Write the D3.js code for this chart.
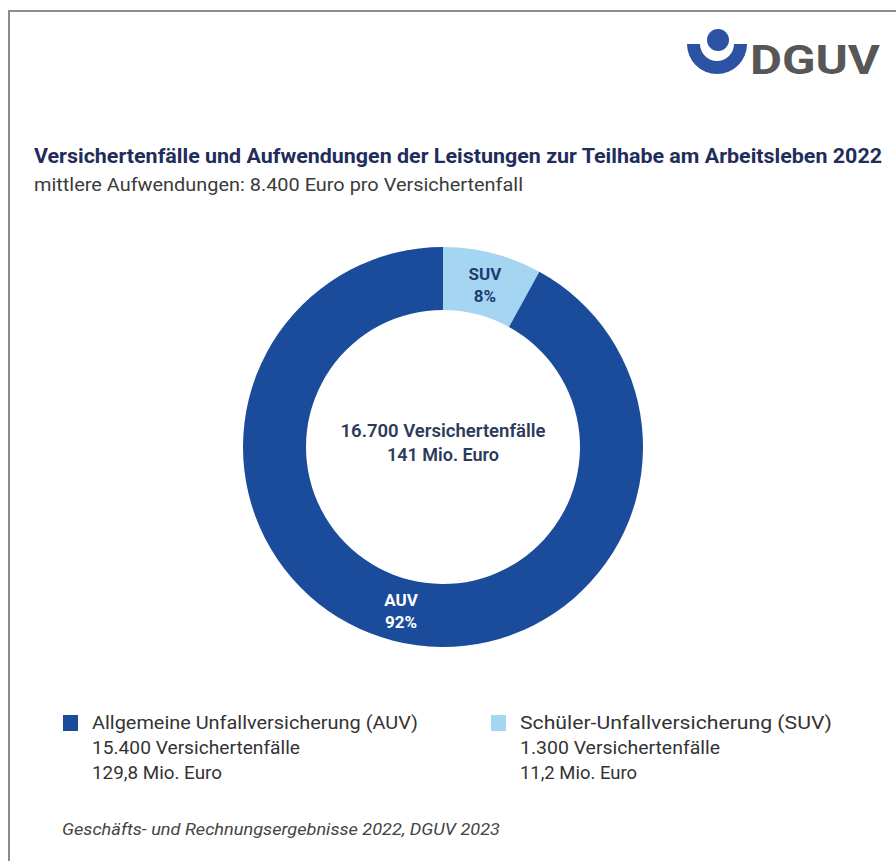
<!DOCTYPE html>
<html>
<head>
<meta charset="utf-8">
<script src="https://cdn.jsdelivr.net/npm/d3@7"></script>
<style>
  html, body { margin: 0; padding: 0; background: #fff; }
  svg { display: block; }
  text { font-family: Roboto, "Open Sans", "DejaVu Sans", sans-serif; }
</style>
</head>
<body>
<svg id="chart" width="896" height="861"></svg>
<script>
// ---- data ----
const categories = ["AUV", "SUV"];
const shares = [92, 8];                       // percent of Versichertenfälle
const cases = [15400, 1300];
const costsMio = ["129,8", "11,2"];
const legendNames = ["Allgemeine Unfallversicherung (AUV)", "Schüler-Unfallversicherung (SUV)"];
const legendCases = ["15.400 Versichertenfälle", "1.300 Versichertenfälle"];
const legendCosts = ["129,8 Mio. Euro", "11,2 Mio. Euro"];
const centerLines = ["16.700 Versichertenfälle", "141 Mio. Euro"];
const title = "Versichertenfälle und Aufwendungen der Leistungen zur Teilhabe am Arbeitsleben 2022";
const subtitle = "mittlere Aufwendungen: 8.400 Euro pro Versichertenfall";
const source = "Geschäfts- und Rechnungsergebnisse 2022, DGUV 2023";

// ---- style / layout ----
const colors = { AUV: "#1b4c9c", SUV: "#a4d5f1" };
const labelColors = { AUV: "#ffffff", SUV: "#1f3b72" };
const nameW = [326, 312], casesW = [208, 200], costsW = [130, 117];

const svg = d3.select("#chart");

// frame
svg.append("path")
  .attr("d", "M9,861 L9,11 L896,11")
  .attr("fill", "none").attr("stroke", "#8c8c8c").attr("stroke-width", 2);

// logo
const logo = svg.append("g").attr("transform", "translate(717,44)");
logo.append("path")
  .attr("d", d3.arc()({ innerRadius: 17, outerRadius: 30, startAngle: Math.PI / 2, endAngle: 3 * Math.PI / 2 }))
  .attr("fill", "#2b52a3");
logo.append("circle").attr("cx", 1).attr("cy", -4).attr("r", 11).attr("fill", "#2b52a3");
svg.append("text")
  .attr("x", 750).attr("y", 74)
  .attr("font-size", 40).attr("font-weight", 700)
  .attr("fill", "#575757")
  .attr("textLength", 130).attr("lengthAdjust", "spacingAndGlyphs")
  .text("DGUV");

// title + subtitle
svg.append("text")
  .attr("x", 34).attr("y", 163)
  .attr("font-size", 21).attr("font-weight", 700)
  .attr("fill", "#1f2d5c")
  .attr("textLength", 848).attr("lengthAdjust", "spacingAndGlyphs")
  .text(title);
svg.append("text")
  .attr("x", 34).attr("y", 191)
  .attr("font-size", 18)
  .attr("fill", "#3b3b3b")
  .attr("textLength", 489).attr("lengthAdjust", "spacingAndGlyphs")
  .text(subtitle);

// donut
const cx = 443, cy = 447, rOuter = 200, rInner = 137;
const pieData = categories.map((c, i) => ({ cat: c, share: shares[i] }));
// SUV starts at 12 o'clock going clockwise, AUV fills the rest
const pie = d3.pie().value(d => d.share).sort(null);
const arcs = pie([pieData[1], pieData[0]]);
const arc = d3.arc().innerRadius(rInner).outerRadius(rOuter);

const g = svg.append("g").attr("transform", `translate(${cx},${cy})`);
g.selectAll("path.slice").data(arcs).join("path")
  .attr("class", "slice")
  .attr("d", arc)
  .attr("fill", d => colors[d.data.cat]);

const lab = g.selectAll("text.slabel").data(arcs).join("text")
  .attr("class", "slabel")
  .attr("transform", d => `translate(${arc.centroid(d)})`)
  .attr("text-anchor", "middle")
  .attr("font-size", 17).attr("font-weight", 700)
  .attr("fill", d => labelColors[d.data.cat]);
lab.append("tspan").attr("x", 0).attr("y", -4).text(d => d.data.cat);
lab.append("tspan").attr("x", 0).attr("y", 18).text(d => d.data.share + "%");

// center text
const ct = g.append("text").attr("text-anchor", "middle")
  .attr("font-size", 18).attr("font-weight", 600).attr("fill", "#2c3a5c");
ct.append("tspan").attr("x", 0).attr("y", -10).attr("textLength", 205).attr("lengthAdjust", "spacingAndGlyphs").text(centerLines[0]);
ct.append("tspan").attr("x", 0).attr("y", 14).text(centerLines[1]);

// legend
const legX = [63, 491];
const legend = svg.selectAll("g.leg").data(categories).join("g")
  .attr("class", "leg")
  .attr("transform", (d, i) => `translate(${legX[i]},715)`);
legend.append("rect").attr("width", 15).attr("height", 16)
  .attr("fill", d => colors[d]);
const lt = legend.append("text").attr("font-size", 18.5).attr("fill", "#333");
lt.append("tspan").attr("x", 29).attr("y", 14)
  .attr("textLength", (d, i) => nameW[i]).attr("lengthAdjust", "spacingAndGlyphs")
  .text((d, i) => legendNames[i]);
lt.append("tspan").attr("x", 29).attr("y", 39)
  .attr("textLength", (d, i) => casesW[i]).attr("lengthAdjust", "spacingAndGlyphs")
  .text((d, i) => legendCases[i]);
lt.append("tspan").attr("x", 29).attr("y", 64)
  .attr("textLength", (d, i) => costsW[i]).attr("lengthAdjust", "spacingAndGlyphs")
  .text((d, i) => legendCosts[i]);

// source
svg.append("text")
  .attr("x", 62).attr("y", 835)
  .attr("font-size", 17).attr("font-style", "italic")
  .attr("fill", "#444")
  .attr("textLength", 438).attr("lengthAdjust", "spacingAndGlyphs")
  .text(source);
</script>
</body>
</html>
